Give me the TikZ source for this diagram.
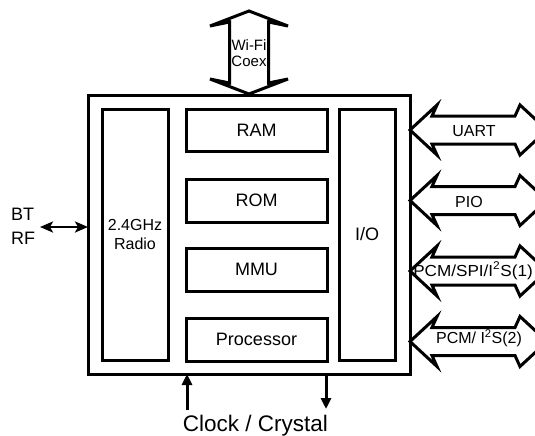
\documentclass[tikz,border=0pt]{standalone}
\usepackage{fontspec}
\setmainfont{Liberation Sans}
\usetikzlibrary{arrows.meta}
\newcommand{\fsz}[1]{\fontsize{#1}{#1}\selectfont}
\begin{document}
\begin{tikzpicture}[x=1pt,y=-1pt,
  blk/.style={draw, line width=3pt, inner sep=0pt, outer sep=0pt},
  membox/.style={blk, minimum width=141pt, minimum height=42pt, font=\fsz{18}},
  tallbox/.style={blk, minimum height=251pt},
  dbl/.style={draw, fill=white, line width=3pt},
  lbl/.style={inner sep=0pt, anchor=base, font=\fsz{16}},
  conn/.style={line width=3pt}
]
\useasboundingbox (0,0) rectangle (535,436);

% chip outline
\node[blk, minimum width=322pt, minimum height=279pt] (chip) at (249,234.5) {};

% inner blocks
\node[tallbox, minimum width=66pt, align=center, font=\fontsize{16}{18.5}\selectfont] (radio) at (135,234.5)
  {2.4GHz\\Radio};
\node[membox] (ram)  at (256.5,130)   {RAM};
\node[membox, minimum height=43pt] (rom)  at (256.5,200.5) {ROM};
\node[membox, minimum height=43pt] (mmu)  at (256.5,269.5) {MMU};
\node[membox, minimum height=43pt] (proc) at (256.5,339.5) {Processor};
\node[tallbox, minimum width=56pt, font=\fsz{18}] (io) at (367,234.5) {I/O};

% Wi-Fi coex double arrow
\draw[dbl] (249,11) -- (288,26) -- (268.5,22) -- (268.5,83) -- (288,79) -- (249,94)
  -- (210,79) -- (229.5,83) -- (229.5,22) -- (210,26) -- cycle;
\node[inner sep=0pt, align=center, font=\fontsize{15}{16.5}\selectfont] (wifi) at (249,53) {Wi-Fi\\Coex};

% right-hand double arrows
\foreach \c in {130, 200.5, 271, 341.5}{
  \draw[dbl] (410,\c) -- (437,\c-25) -- (432,\c-14) -- (515,\c-14) -- (520,\c-25)
    -- (547,\c) -- (520,\c+25) -- (515,\c+14) -- (432,\c+14) -- (437,\c+25) -- cycle;
}
\node[lbl] (uartl) at (474,136) {UART};
\node[lbl] (piol)  at (469,207) {PIO};
\node[lbl] (pcmal) at (473,276) {\scalebox{1.07}[1]{PCM/SPI/I\textsuperscript{2}S(1)}};
\node[lbl] (pcmbl) at (479,343.5) {PCM/ I\textsuperscript{2}S(2)};

% BT RF
\node[inner sep=0pt, anchor=west, align=left, font=\fontsize{18}{24}\selectfont] (btrf) at (11,226.5) {BT\\RF};
\coordinate (btend) at (40,227);
\draw[line width=2.5pt, {Stealth[length=13pt,width=11pt,inset=3pt]}-{Stealth[length=13pt,width=11pt,inset=3pt]}]
  (btend) -- (chip.west |- btend);

% clock / crystal
\node[inner sep=0pt, anchor=base, font=\fsz{22.5}] (clk) at (255.5,431) {Clock / Crystal};
\coordinate (clkin) at (187,410);
\coordinate (clkout) at (326,409);
\draw[conn, -{Triangle[length=11pt,width=10pt]}] (clkin) -- (clkin |- chip.south);
\draw[conn, -{Triangle[length=11pt,width=10pt]}] (chip.south -| clkout) -- (clkout);
\end{tikzpicture}
\end{document}
